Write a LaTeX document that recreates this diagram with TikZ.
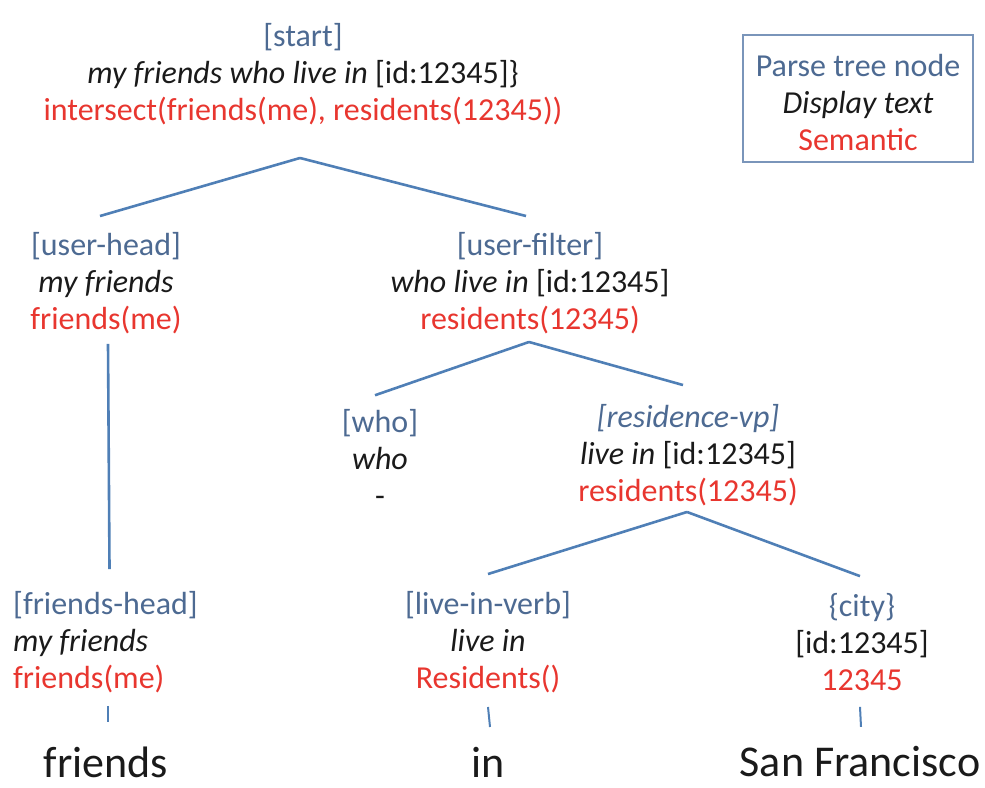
\documentclass[tikz,border=0pt]{standalone}
\usepackage{fontspec}
\setmainfont{Carlito}
\definecolor{tblue}{HTML}{4D6A92}
\definecolor{tred}{HTML}{E8362F}
\definecolor{tblack}{HTML}{1A1A1A}
\definecolor{lblue}{HTML}{4F7FB6}
\definecolor{bblue}{HTML}{7A95BA}
\tikzset{
  tn/.style={align=center, inner sep=0pt, text=tblack, font=\fontsize{32}{37}\selectfont},
  word/.style={inner sep=0pt, text=tblack, font=\fontsize{44}{48}\selectfont},
  conn/.style={draw=lblue, line width=2.6pt},
  tick/.style={draw=lblue, line width=2pt},
  legendbox/.style={draw=bblue, line width=1.3pt, minimum width=230pt, minimum height=127pt, inner sep=0pt}
}
\newcommand{\nb}[1]{{\color{tblue}#1}}
\newcommand{\sm}[1]{{\color{tred}#1}}
\begin{document}
\begin{tikzpicture}[x=1pt,y=-1pt]
\useasboundingbox (0,0) rectangle (985,787);
\node[tn] (start) at (303,74) {\nb{[start]}\\ {\textit{my friends who live in} [id:12345]\}}\\ \sm{intersect(friends(me), residents(12345))}};
\node[legendbox] (legend) at (858,98.5) {};
\node[tn] (legendtext) at (858,103) {\nb{Parse tree node}\\ {\textit{Display text}}\\ \sm{Semantic}};
\node[tn] (userhead) at (106,283) {\nb{[user-head]}\\ {\textit{my friends}}\\ \sm{friends(me)}};
\node[tn] (userfilter) at (530,283) {\nb{[user-filter]}\\ {\textit{who live in} [id:12345]}\\ \sm{residents(12345)}};
\node[tn] (who) at (380,458) {\nb{[who]}\\ {\textit{who}}\\ {-}};
\node[tn] (resvp) at (688,455) {\nb{\textit{[residence-vp]}}\\ {\textit{live in} [id:12345]}\\ \sm{residents(12345)}};
\node[tn, align=left, anchor=west] (friendshead) at (13,642) {\nb{[friends-head]}\\ {\textit{my friends}}\\ \sm{friends(me)}};
\node[tn] (liveinverb) at (488,642) {\nb{[live-in-verb]}\\ {\textit{live in}}\\ \sm{Residents()}};
\node[tn] (city) at (862,642) {\nb{\{city\}}\\ {[id:12345]}\\ \sm{12345}};
\node[word] (wfriends) at (106,762) {friends};
\node[word] (win) at (488,762) {in};
\node[word] (wsf) at (860,762) {San Francisco};
% connectors
\draw[conn] ([xshift=-3pt,yshift=-33pt]start.south) -- ([xshift=-6pt,yshift=16pt]userhead.north);
\draw[conn] ([xshift=-3pt,yshift=-33pt]start.south) -- ([xshift=-4pt,yshift=16pt]userfilter.north);
\draw[conn] ([xshift=2pt,yshift=-10pt]userhead.south) -- ([xshift=4pt,yshift=22pt]friendshead.north);
\draw[conn] ([xshift=-1pt,yshift=-8pt]userfilter.south) -- ([xshift=-5pt,yshift=14pt]who.north);
\draw[conn] ([xshift=-1pt,yshift=-8pt]userfilter.south) -- ([xshift=-5pt,yshift=19pt]resvp.north);
\draw[conn] ([xshift=-1pt,yshift=-6pt]resvp.south) -- ([yshift=17pt]liveinverb.north);
\draw[conn] ([xshift=-1pt,yshift=-6pt]resvp.south) -- ([xshift=-2pt,yshift=17pt]city.north);
\draw[tick] ([xshift=2pt,yshift=-13pt]friendshead.south) -- ([xshift=2pt,yshift=-29pt]friendshead.south);
\draw[tick] ([yshift=-14pt]liveinverb.south) -- ([xshift=2pt,yshift=-34pt]liveinverb.south);
\draw[tick] ([xshift=-2pt,yshift=-16pt]city.south) -- ([xshift=-1pt,yshift=-36pt]city.south);
\end{tikzpicture}
\end{document}
